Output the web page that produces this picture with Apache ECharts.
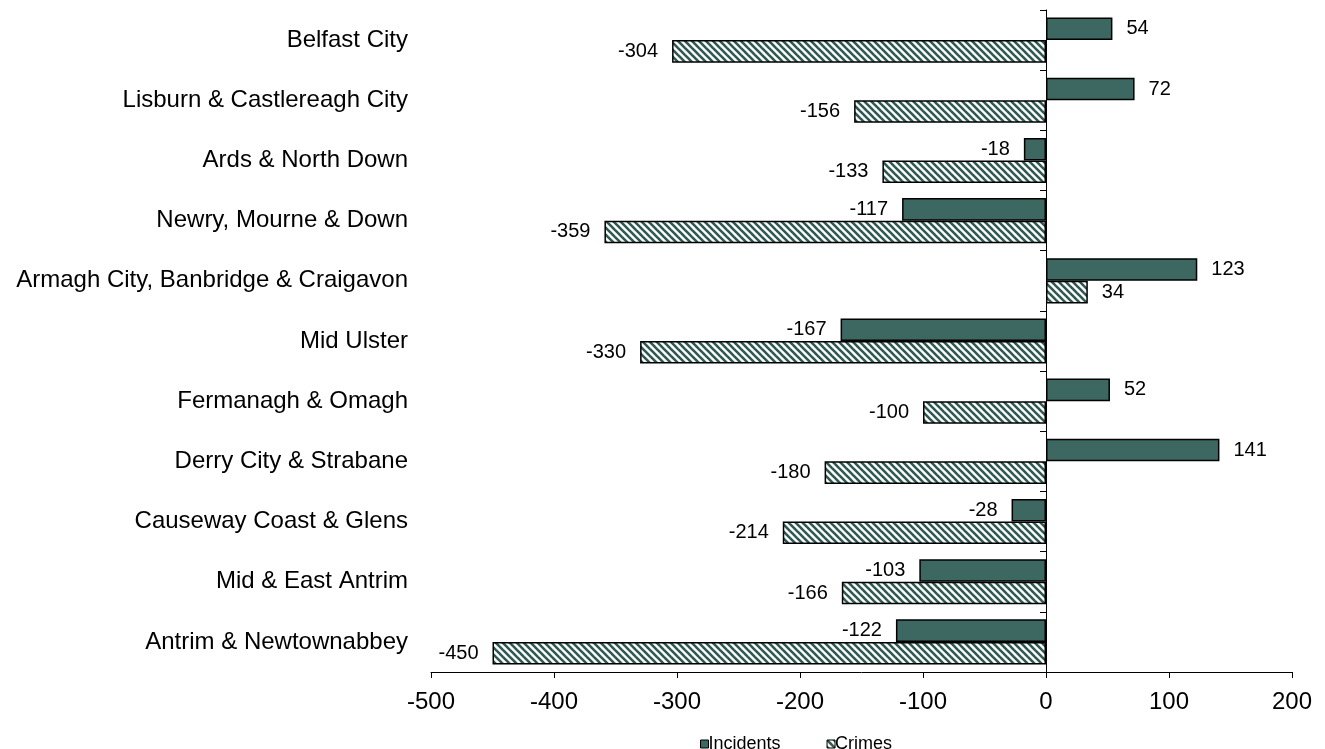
<!DOCTYPE html>
<html>
<head>
<meta charset="utf-8">
<script src="https://cdn.jsdelivr.net/npm/echarts@6/dist/echarts.min.js"></script>
<style>html,body{margin:0;padding:0;background:#fff}#c{width:1325px;height:749px}</style>
</head>
<body>
<div id="c"></div>
<script>
const categories = ["Belfast City","Lisburn & Castlereagh City","Ards & North Down","Newry, Mourne & Down","Armagh City, Banbridge & Craigavon","Mid Ulster","Fermanagh & Omagh","Derry City & Strabane","Causeway Coast & Glens","Mid & East Antrim","Antrim & Newtownabbey"];
const incidents = [54, 72, -18, -117, 123, -167, 52, 141, -28, -103, -122];
const crimes = [-304, -156, -133, -359, 34, -330, -100, -180, -214, -166, -450];
const xTicks = [-500, -400, -300, -200, -100, 0, 100, 200];

const DARK = '#3d6761';
const FONT = 'Liberation Sans, Arial, sans-serif';
function makePattern(){
  const s = 7;
  const cv = document.createElement('canvas');
  cv.width = s; cv.height = s;
  const ctx = cv.getContext('2d');
  ctx.fillStyle = '#fff'; ctx.fillRect(0,0,s,s);
  ctx.strokeStyle = '#2f5953'; ctx.lineWidth = 2.6;
  for (const c of [-s, 0, s]) {
    ctx.beginPath(); ctx.moveTo(-1, -1 + c); ctx.lineTo(s + 1, s + 1 + c); ctx.stroke();
  }
  return cv;
}
const pat = {image: makePattern(), repeat: 'repeat'};

function items(arr){
  return arr.map(v => ({value: v, label: {position: v >= 0 ? 'right' : 'left'}}));
}
const chart = echarts.init(document.getElementById('c'));
chart.setOption({
  animation: false,
  grid: {left: 431, right: 33, top: 10, bottom: 77, containLabel: false},
  legend: {
    top: 730, left: 695, itemWidth: 8, itemHeight: 8, itemGap: 46,
    textStyle: {fontFamily: FONT, fontSize: 18, color: '#000', padding: [0,0,0,-5]},
    data: [
      {name: 'Incidents', icon: 'rect', itemStyle: {color: DARK, borderColor: '#000', borderWidth: 1}},
      {name: 'Crimes', icon: 'rect', itemStyle: {color: pat, borderColor: '#000', borderWidth: 1}}
    ]
  },
  xAxis: {
    type: 'value', min: -500, max: 200, interval: 100,
    axisLine: {show: true, lineStyle: {color: '#000', width: 1}},
    axisTick: {show: true, length: 6, lineStyle: {color: '#000'}},
    splitLine: {show: false},
    axisLabel: {fontFamily: FONT, fontSize: 24, color: '#000', margin: 18,
      formatter: v => xTicks.includes(v) ? String(v) : ''}
  },
  yAxis: [
    {
      type: 'category', data: categories, inverse: true,
      axisLine: {show: false, onZero: false}, axisTick: {show: false},
      axisLabel: {fontFamily: FONT, fontSize: 24, color: '#000', margin: 23}
    },
    {
      type: 'category', data: categories, inverse: true, position: 'left',
      axisLine: {show: true, onZero: true, lineStyle: {color: '#000', width: 1}},
      axisTick: {show: true, length: 6, inside: false, lineStyle: {color: '#000'}},
      axisLabel: {show: false}
    }
  ],
  series: [
    {
      name: 'Incidents', type: 'bar', yAxisIndex: 0, data: items(incidents),
      barGap: '0%', barCategoryGap: '25%',
      itemStyle: {color: DARK, borderColor: '#000', borderWidth: 1.5},
      label: {show: true, fontFamily: FONT, fontSize: 20, color: '#000', distance: 14}
    },
    {
      name: 'Crimes', type: 'bar', yAxisIndex: 0, data: items(crimes),
      barGap: '0%', barCategoryGap: '25%',
      itemStyle: {color: pat, borderColor: '#000', borderWidth: 1.5},
      label: {show: true, fontFamily: FONT, fontSize: 20, color: '#000', distance: 14}
    }
  ]
});
</script>
</body>
</html>
